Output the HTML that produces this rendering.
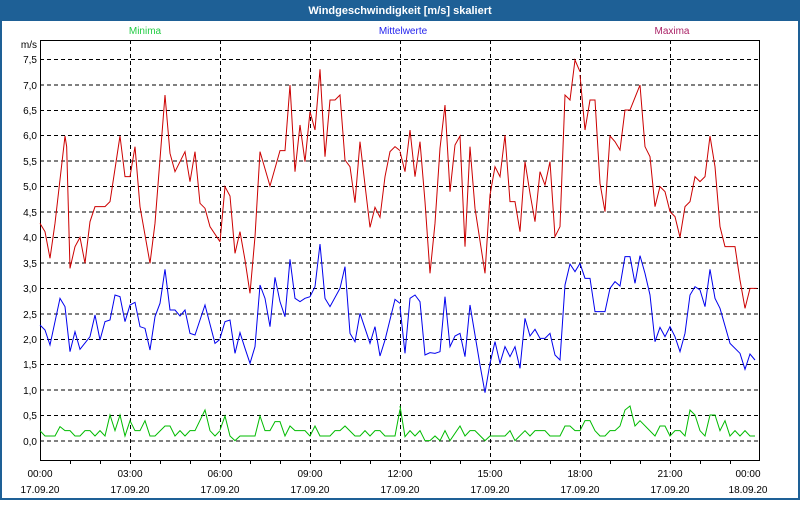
<!DOCTYPE html>
<html><head><style>
html,body{margin:0;padding:0;background:#fff;}
body{width:800px;height:500px;overflow:hidden;font-family:"Liberation Sans",sans-serif;}
</style></head><body>
<svg width="800" height="500" xmlns="http://www.w3.org/2000/svg" font-family="Liberation Sans, sans-serif">
<rect x="0" y="0" width="800" height="500" fill="#fff"/>
<rect x="0" y="0" width="800" height="21" fill="#1e6096"/>
<rect x="0" y="0" width="2" height="500" fill="#1e6096"/>
<rect x="798" y="0" width="2" height="500" fill="#1e6096"/>
<rect x="0" y="498" width="800" height="2" fill="#1e6096"/>
<text x="400" y="14" fill="#fff" font-size="11" font-weight="bold" text-anchor="middle">Windgeschwindigkeit [m/s] skaliert</text>
<text x="145" y="34" fill="#22cc44" font-size="10" text-anchor="middle">Minima</text>
<text x="403" y="34" fill="#2222ee" font-size="10" text-anchor="middle">Mittelwerte</text>
<text x="672" y="34" fill="#aa2266" font-size="10" text-anchor="middle">Maxima</text>
<g stroke="#000" stroke-width="1" stroke-dasharray="4,3" shape-rendering="crispEdges">
<line x1="40" x2="760" y1="59.5" y2="59.5"/><line x1="40" x2="760" y1="85" y2="85"/><line x1="40" x2="760" y1="110.5" y2="110.5"/><line x1="40" x2="760" y1="135.5" y2="135.5"/><line x1="40" x2="760" y1="161" y2="161"/><line x1="40" x2="760" y1="186.5" y2="186.5"/><line x1="40" x2="760" y1="212" y2="212"/><line x1="40" x2="760" y1="237.5" y2="237.5"/><line x1="40" x2="760" y1="263" y2="263"/><line x1="40" x2="760" y1="288.5" y2="288.5"/><line x1="40" x2="760" y1="314" y2="314"/><line x1="40" x2="760" y1="339.5" y2="339.5"/><line x1="40" x2="760" y1="364.5" y2="364.5"/><line x1="40" x2="760" y1="390" y2="390"/><line x1="40" x2="760" y1="415.5" y2="415.5"/><line x1="40" x2="760" y1="441" y2="441"/>
<line x1="130.5" x2="130.5" y1="40" y2="460"/><line x1="220.5" x2="220.5" y1="40" y2="460"/><line x1="310.5" x2="310.5" y1="40" y2="460"/><line x1="400.5" x2="400.5" y1="40" y2="460"/><line x1="490.5" x2="490.5" y1="40" y2="460"/><line x1="580.5" x2="580.5" y1="40" y2="460"/><line x1="670.5" x2="670.5" y1="40" y2="460"/>
</g>
<rect x="40.5" y="40.5" width="719" height="420" fill="none" stroke="#000" stroke-width="1" shape-rendering="crispEdges"/>
<g stroke="#000" shape-rendering="crispEdges">
<line x1="70.5" x2="70.5" y1="460" y2="464"/><line x1="100.5" x2="100.5" y1="460" y2="464"/><line x1="130.5" x2="130.5" y1="460" y2="464"/><line x1="160.5" x2="160.5" y1="460" y2="464"/><line x1="190.5" x2="190.5" y1="460" y2="464"/><line x1="220.5" x2="220.5" y1="460" y2="464"/><line x1="250.5" x2="250.5" y1="460" y2="464"/><line x1="280.5" x2="280.5" y1="460" y2="464"/><line x1="310.5" x2="310.5" y1="460" y2="464"/><line x1="340.5" x2="340.5" y1="460" y2="464"/><line x1="370.5" x2="370.5" y1="460" y2="464"/><line x1="400.5" x2="400.5" y1="460" y2="464"/><line x1="430.5" x2="430.5" y1="460" y2="464"/><line x1="460.5" x2="460.5" y1="460" y2="464"/><line x1="490.5" x2="490.5" y1="460" y2="464"/><line x1="520.5" x2="520.5" y1="460" y2="464"/><line x1="550.5" x2="550.5" y1="460" y2="464"/><line x1="580.5" x2="580.5" y1="460" y2="464"/><line x1="610.5" x2="610.5" y1="460" y2="464"/><line x1="640.5" x2="640.5" y1="460" y2="464"/><line x1="670.5" x2="670.5" y1="460" y2="464"/><line x1="700.5" x2="700.5" y1="460" y2="464"/><line x1="730.5" x2="730.5" y1="460" y2="464"/>
</g>
<g font-size="10" fill="#000" text-anchor="end">
<text x="37" y="48">m/s</text>
<text x="37" y="63">7,5</text><text x="37" y="89">7,0</text><text x="37" y="114">6,5</text><text x="37" y="139">6,0</text><text x="37" y="165">5,5</text><text x="37" y="190">5,0</text><text x="37" y="216">4,5</text><text x="37" y="241">4,0</text><text x="37" y="267">3,5</text><text x="37" y="292">3,0</text><text x="37" y="318">2,5</text><text x="37" y="343">2,0</text><text x="37" y="368">1,5</text><text x="37" y="394">1,0</text><text x="37" y="419">0,5</text><text x="37" y="445">0,0</text>
</g>
<g font-size="10" fill="#000" text-anchor="middle">
<text x="40" y="477">00:00</text><text x="130" y="477">03:00</text><text x="220" y="477">06:00</text><text x="310" y="477">09:00</text><text x="400" y="477">12:00</text><text x="490" y="477">15:00</text><text x="580" y="477">18:00</text><text x="670" y="477">21:00</text><text x="748" y="477">00:00</text>
<text x="40" y="493">17.09.20</text><text x="130" y="493">17.09.20</text><text x="220" y="493">17.09.20</text><text x="310" y="493">17.09.20</text><text x="400" y="493">17.09.20</text><text x="490" y="493">17.09.20</text><text x="580" y="493">17.09.20</text><text x="670" y="493">17.09.20</text><text x="748" y="493">18.09.20</text>
</g>
<g fill="none" stroke-width="1">
<g transform="translate(40,50) scale(0.33333)">
<polyline vector-effect="non-scaling-stroke" stroke="#cc0000" points="0,520 15,545 30,625 45,520 75,258 80,290 90,655 105,590 120,562 135,640 150,515 165,470 195,470 210,455 240,258 255,380 270,380 285,290 300,470 330,640 345,520 375,135 390,310 405,365 435,305 450,395 465,305 480,460 495,475 510,530 540,575"/>
<polyline vector-effect="non-scaling-stroke" stroke="#0000ee" points="0,825 15,840 30,885 60,745 75,770 90,905 105,845 120,898 150,860 165,795 180,870 195,815 210,810 225,735 240,740 255,815 270,765 285,757 300,830 315,835 330,900 345,800 360,760 375,658 390,780 405,780 420,798 435,780 450,850 465,855 495,765 525,880 540,868"/>
<polyline vector-effect="non-scaling-stroke" stroke="#00bb00" points="0,1142 15,1158 45,1158 60,1130 75,1142 90,1142 105,1158 120,1158 135,1142 150,1142 165,1158 180,1142 195,1158 210,1095 225,1142 240,1095 255,1158 270,1112 285,1142 300,1142 315,1112 330,1158 345,1158 375,1128 390,1128 405,1158 420,1142 435,1158 450,1142 465,1142 495,1080 510,1142 525,1158 540,1142"/>
</g>
<g transform="translate(220,50) scale(0.33333)">
<polyline vector-effect="non-scaling-stroke" stroke="#cc0000" points="0,575 15,410 30,438 45,610 60,545 75,630 90,730 105,560 120,305 150,408 180,302 195,302 210,105 225,365 240,225 255,335 270,185 285,240 300,58 315,320 330,150 345,150 360,135 375,330 390,350 405,458 420,275 435,405 450,532 465,472 480,502 495,380 510,305 525,290 540,302"/>
<polyline vector-effect="non-scaling-stroke" stroke="#0000ee" points="0,865 15,815 30,810 45,910 60,848 75,895 90,940 105,890 120,705 135,745 150,830 165,682 180,755 195,800 210,628 225,745 240,755 255,745 270,740 285,710 300,582 315,745 330,770 360,715 375,650 390,850 405,875 420,790 450,880 465,830 480,918 495,870 525,748 540,760"/>
<polyline vector-effect="non-scaling-stroke" stroke="#00bb00" points="0,1140 15,1098 30,1158 45,1172 60,1158 105,1158 120,1098 135,1142 150,1142 165,1115 180,1115 195,1158 210,1128 225,1142 255,1142 270,1158 285,1128 300,1158 330,1158 345,1142 360,1142 375,1128 405,1158 420,1158 435,1142 450,1158 465,1142 480,1142 495,1158 525,1158 540,1078"/>
</g>
<g transform="translate(400,50) scale(0.33333)">
<polyline vector-effect="non-scaling-stroke" stroke="#cc0000" points="0,305 15,365 30,240 45,380 60,275 75,455 90,670 105,520 120,295 135,165 150,425 165,285 180,258 195,590 210,290 225,475 255,670 270,435 285,350 300,380 315,255 330,455 345,455 360,545 375,335 390,430 405,515 420,365 435,405 450,335 465,560 480,530 495,135 510,150 525,30 540,65"/>
<polyline vector-effect="non-scaling-stroke" stroke="#0000ee" points="0,770 15,910 30,745 45,735 60,755 75,915 90,908 105,910 120,905 135,740 150,890 165,858 180,850 195,920 210,765 240,945 255,1028 270,940 285,875 300,940 315,890 330,920 345,890 360,955 375,805 390,858 405,838 420,865 435,865 450,850 465,915 480,930 495,705 510,642 525,665 540,640"/>
<polyline vector-effect="non-scaling-stroke" stroke="#00bb00" points="0,1068 15,1160 30,1142 45,1158 60,1142 75,1172 90,1172 105,1158 120,1172 135,1142 150,1172 180,1128 195,1158 210,1142 225,1142 255,1172 270,1158 315,1158 330,1142 345,1172 375,1142 390,1158 405,1142 435,1142 450,1158 480,1158 495,1128 510,1128 525,1142 540,1142"/>
</g>
<g transform="translate(580,50) scale(0.33333)">
<polyline vector-effect="non-scaling-stroke" stroke="#cc0000" points="0,75 15,240 30,150 45,150 60,400 75,485 90,258 105,275 120,300 135,180 150,180 180,105 195,290 210,320 225,470 240,410 255,425 270,485 285,500 300,562 315,470 330,455 345,380 360,395 375,380 390,258 405,350 420,530 435,590 465,590 480,690 495,775 510,715 530,715"/>
<polyline vector-effect="non-scaling-stroke" stroke="#0000ee" points="0,640 15,685 30,685 45,785 75,785 90,715 105,695 120,708 135,620 150,620 165,700 180,617 195,670 210,735 225,875 240,832 255,860 270,830 285,860 300,905 315,850 330,735 345,710 360,720 375,770 390,658 405,745 420,775 450,880 480,910 495,958 510,912 525,930"/>
<polyline vector-effect="non-scaling-stroke" stroke="#00bb00" points="0,1142 15,1112 30,1112 45,1142 60,1158 75,1158 90,1142 105,1142 120,1128 135,1080 150,1068 165,1128 180,1112 225,1158 240,1128 255,1128 270,1158 285,1142 300,1142 315,1158 330,1080 345,1095 360,1142 375,1158 390,1095 405,1095 420,1142 435,1112 450,1158 465,1142 480,1158 495,1142 510,1158 525,1158"/>
</g>
</g>
</svg>
</body></html>
